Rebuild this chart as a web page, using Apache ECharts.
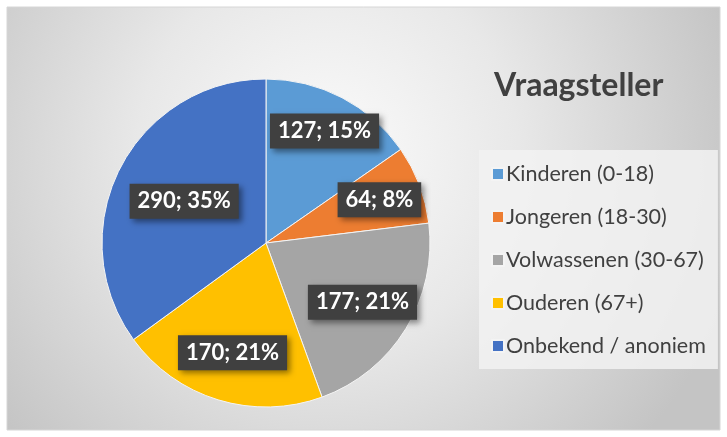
<!DOCTYPE html>
<html>
<head>
<meta charset="utf-8">
<script src="https://cdn.jsdelivr.net/npm/echarts@6/dist/echarts.min.js"></script>
<style>
  html, body { margin: 0; padding: 0; background: #fff; }
  #chart { width: 727px; height: 437px; }
</style>
</head>
<body>
<div id="chart"></div>
<script>
// data
const categories = ["Kinderen (0-18)", "Jongeren (18-30)", "Volwassenen (30-67)", "Ouderen (67+)", "Onbekend / anoniem"];
const values = [127, 64, 177, 170, 290];
const colorList = ["#5B9BD5", "#ED7D31", "#A5A5A5", "#FFC000", "#4472C4"];

// label distance from the centre, as part of the radius (Excel "best fit")
const labelRadius = [0.77, 0.74, 0.69, 0.70, 0.56];

const pieCx = 266, pieCy = 243, pieR = 164;

const total = values.reduce((a, b) => a + b, 0);
// mid angle of every slice, clockwise from 12 o'clock
const midAngles = [];
let acc = 0;
values.forEach((v) => {
  midAngles.push((acc + v / 2) / total * Math.PI * 2);
  acc += v;
});

const chart = echarts.init(document.getElementById("chart"));

chart.setOption({
  color: colorList,
  textStyle: { fontFamily: "Lato" },
  graphic: [{
    type: "rect",
    z: -10,
    silent: true,
    shape: { x: 7, y: 7, width: 713, height: 423 },
    style: {
      fill: new echarts.graphic.RadialGradient(0.45, 0.35, 1, [
        { offset: 0, color: "#fbfbfb" },
        { offset: 0.45, color: "#e8e8e8" },
        { offset: 1, color: "#c4c4c4" }
      ]),
      stroke: "#d6d6d6",
      lineWidth: 1
    }
  }],
  title: {
    text: "Vraagsteller",
    left: 489,
    top: 65,
    textStyle: { fontSize: 32, fontWeight: "bold", color: "#404040", fontFamily: "Lato" }
  },
  legend: {
    orient: "vertical",
    left: 479,
    top: 150,
    width: 239,
    padding: [13, 12, 12, 12],
    backgroundColor: "rgba(242,242,242,0.85)",
    icon: "rect",
    itemWidth: 12,
    itemHeight: 12,
    itemGap: 21,
    data: categories,
    textStyle: { fontSize: 21.5, lineHeight: 22, color: "#404040", fontFamily: "Lato", padding: [0, 0, 0, -3] }
  },
  series: [{
    type: "pie",
    center: [pieCx, pieCy],
    radius: pieR,
    startAngle: 90,
    clockwise: true,
    animation: false,
    itemStyle: { borderColor: "#f4f4f4", borderWidth: 1 },
    label: {
      position: "inside",
      color: "#fff",
      fontSize: 22,
      fontWeight: "bold",
      fontFamily: "Lato",
      backgroundColor: "#404040",
      padding: [7, 8, 6, 8],
      shadowColor: "rgba(0,0,0,0.45)",
      shadowBlur: 6,
      shadowOffsetX: 3,
      shadowOffsetY: 3,
      formatter: (p) => p.value + "; " + Math.round(p.percent) + "%"
    },
    labelLayout: (params) => {
      const i = params.dataIndex;
      const d = labelRadius[i] * pieR;
      return {
        x: pieCx + d * Math.sin(midAngles[i]),
        y: pieCy - d * Math.cos(midAngles[i]),
        align: "center",
        verticalAlign: "middle"
      };
    },
    emphasis: { disabled: true },
    data: categories.map((name, i) => ({ name: name, value: values[i] }))
  }]
});
</script>
</body>
</html>
